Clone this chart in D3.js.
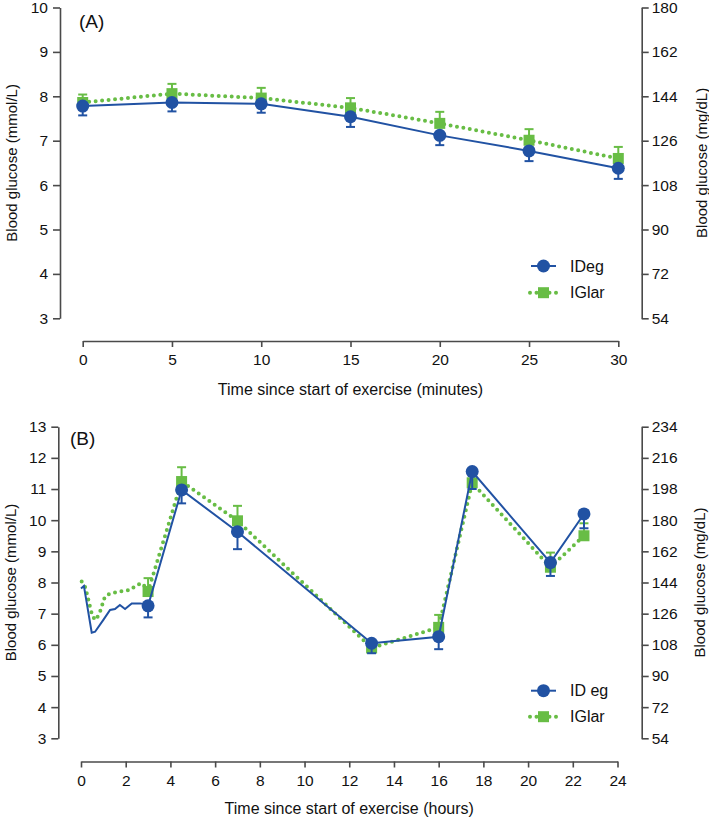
<!DOCTYPE html>
<html>
<head>
<meta charset="utf-8">
<script src="https://cdn.jsdelivr.net/npm/d3@7"></script>
<style>
  body { margin: 0; background: #fff; }
  svg { display: block; font-family: "Liberation Sans", Arial, Helvetica, sans-serif; }
</style>
</head>
<body>
<svg id="chart" width="709" height="818"></svg>
<script>
// ---------- Data: Panel A (minutes) ----------
const minutesA = [0, 5, 10, 15, 20, 25, 30];
const idegA    = [7.78, 7.86, 7.83, 7.54, 7.12, 6.77, 6.38];
const idegA_lo = [7.57, 7.66, 7.63, 7.31, 6.90, 6.54, 6.14];
const iglarA    = [7.86, 8.06, 7.96, 7.74, 7.39, 7.01, 6.60];
const iglarA_hi = [8.04, 8.28, 8.19, 7.96, 7.65, 7.26, 6.86];
const xTicksA = [0, 5, 10, 15, 20, 25, 30];
const yTicksA = [3, 4, 5, 6, 7, 8, 9, 10];
const yTicksA_mg = [54, 72, 90, 108, 126, 144, 162, 180];

// ---------- Data: Panel B (hours) ----------
const hoursB    = [3, 4.5, 7, 13, 16, 17.5, 21, 22.5];
const idegB     = [7.25, 10.97, 9.63, 6.05, 6.26, 11.56, 8.64, 10.20];
const idegB_lo  = [6.88, 10.54, 9.07, 5.73, 5.86, 11.00, 8.21, 9.74];
const iglarB    = [7.71, 11.24, 9.98, 5.90, 6.56, 11.20, 8.49, 9.50];
const iglarB_hi = [8.14, 11.70, 10.46, 6.10, 6.96, 11.65, 8.96, 9.90];
// continuous glucose during first 3 h
const idegCgmT  = [0, 0.13, 0.48, 0.63, 1.0, 1.3, 1.52, 1.74, 1.97, 2.27, 2.64, 2.86];
const idegCgmV  = [7.81, 7.89, 6.39, 6.42, 6.80, 7.12, 7.15, 7.28, 7.15, 7.33, 7.33, 7.30];
const iglarCgmT = [0.03, 0.16, 0.28, 0.40, 0.52, 0.67, 0.85, 1.07, 1.30, 1.74, 2.19, 2.49, 2.72, 2.94];
const iglarCgmV = [8.03, 7.92, 7.60, 7.23, 6.90, 6.80, 7.06, 7.55, 7.65, 7.71, 7.76, 7.92, 7.98, 7.81];
const xTicksB = [0, 2, 4, 6, 8, 10, 12, 14, 16, 18, 20, 22, 24];
const yTicksB = [3, 4, 5, 6, 7, 8, 9, 10, 11, 12, 13];
const yTicksB_mg = [54, 72, 90, 108, 126, 144, 162, 180, 198, 216, 234];

const BLUE = "#2152a3";
const GREEN = "#68bd45";
const AXIS = "#4a4a4a";
const TICKFONT = 15.5;
const HFONT = 16;   // horizontal titles
const VFONT = 15;   // rotated titles

const svg = d3.select("#chart");

function panel(cfg) {
  const g = svg.append("g");
  const x = d3.scaleLinear().domain(cfg.xDomain).range([cfg.x0, cfg.x1]);
  const y = d3.scaleLinear().domain(cfg.yDomain).range([cfg.yBottom, cfg.yTop]);
  const y2 = d3.scaleLinear().domain(cfg.y2Domain).range([cfg.yBottom, cfg.yTop]);
  const fmt = d3.format("d");

  const la = g.append("g").attr("transform", `translate(${cfg.leftX},0)`)
    .call(d3.axisLeft(y).tickValues(cfg.yTicks).tickFormat(fmt).tickSize(7).tickPadding(5).tickSizeOuter(0));
  const ra = g.append("g").attr("transform", `translate(${cfg.rightX},0)`)
    .call(d3.axisRight(y2).tickValues(cfg.y2Ticks).tickFormat(fmt).tickSize(7).tickPadding(3).tickSizeOuter(0));
  const ba = g.append("g").attr("transform", `translate(0,${cfg.axisY})`)
    .call(d3.axisBottom(x).tickValues(cfg.xTicks).tickFormat(fmt).tickSize(6).tickPadding(7).tickSizeOuter(0));
  [la, ra, ba].forEach(a => {
    a.select(".domain").attr("stroke", AXIS).attr("stroke-width", 1.6);
    a.selectAll(".tick line").attr("stroke", AXIS).attr("stroke-width", 1.6);
    a.selectAll(".tick text").attr("fill", "#111").style("font-size", TICKFONT + "px")
      .style("font-family", '"Liberation Sans", Arial, sans-serif');
  });

  g.append("text").attr("transform", `translate(${cfg.leftLabelX},${(cfg.yTop + cfg.yBottom) / 2}) rotate(-90)`)
    .attr("text-anchor", "middle").attr("dominant-baseline", "central")
    .style("font-size", VFONT + "px").attr("fill", "#111").text("Blood glucose (mmol/L)");
  g.append("text").attr("transform", `translate(${cfg.rightLabelX},${(cfg.yTop + cfg.yBottom) / 2}) rotate(-90)`)
    .attr("text-anchor", "middle").attr("dominant-baseline", "central")
    .style("font-size", VFONT + "px").attr("fill", "#111").text("Blood glucose (mg/dL)");
  g.append("text").attr("x", (cfg.x0 + cfg.x1) / 2).attr("y", cfg.xLabelY)
    .attr("text-anchor", "middle").attr("dominant-baseline", "central")
    .style("font-size", HFONT + "px").attr("fill", "#111").text(cfg.xLabel);
  g.append("text").attr("x", cfg.tagX).attr("y", cfg.tagY)
    .attr("dominant-baseline", "central")
    .style("font-size", "19px").attr("fill", "#111").text(cfg.tag);

  const line = d3.line().x(d => x(d[0])).y(d => y(d[1]));

  // Green series (behind)
  g.append("path").datum(cfg.greenLine).attr("d", line)
    .attr("fill", "none").attr("stroke", GREEN).attr("stroke-width", 4)
    .attr("stroke-linecap", "round").attr("stroke-dasharray", "0,6.5");
  const gEb = g.append("g");
  cfg.markerT.forEach((t, i) => {
    const cx = x(t), v = cfg.green[i], hi = cfg.greenHi[i];
    gEb.append("line").attr("x1", cx).attr("x2", cx).attr("y1", y(v)).attr("y2", y(hi))
      .attr("stroke", GREEN).attr("stroke-width", 2);
    gEb.append("line").attr("x1", cx - 4.5).attr("x2", cx + 4.5).attr("y1", y(hi)).attr("y2", y(hi))
      .attr("stroke", GREEN).attr("stroke-width", 2);
    gEb.append("rect").attr("x", cx - 5.5).attr("y", y(v) - 5.5).attr("width", 11).attr("height", 11)
      .attr("fill", GREEN);
  });

  // Blue series (front)
  g.append("path").datum(cfg.blueLine).attr("d", line)
    .attr("fill", "none").attr("stroke", BLUE).attr("stroke-width", 2);
  const bEb = g.append("g");
  cfg.markerT.forEach((t, i) => {
    const cx = x(t), v = cfg.blue[i], lo = cfg.blueLo[i];
    bEb.append("line").attr("x1", cx).attr("x2", cx).attr("y1", y(v)).attr("y2", y(lo))
      .attr("stroke", BLUE).attr("stroke-width", 2);
    bEb.append("line").attr("x1", cx - 4.5).attr("x2", cx + 4.5).attr("y1", y(lo)).attr("y2", y(lo))
      .attr("stroke", BLUE).attr("stroke-width", 2);
    bEb.append("circle").attr("cx", cx).attr("cy", y(v)).attr("r", 6.5).attr("fill", BLUE);
  });

  // Legend
  const lg = g.append("g");
  const lx0 = 531, lx1 = 556, lmx = 543.5, tx = 570;
  lg.append("line").attr("x1", lx0).attr("x2", lx1).attr("y1", cfg.legY[0]).attr("y2", cfg.legY[0])
    .attr("stroke", BLUE).attr("stroke-width", 2);
  lg.append("circle").attr("cx", lmx).attr("cy", cfg.legY[0]).attr("r", 6.5).attr("fill", BLUE);
  lg.append("text").attr("x", tx).attr("y", cfg.legY[0]).attr("dominant-baseline", "central")
    .style("font-size", HFONT + "px").attr("fill", "#111").text(cfg.legNames[0]);
  lg.append("line").attr("x1", lx0 - 1).attr("x2", lx1 + 1).attr("y1", cfg.legY[1]).attr("y2", cfg.legY[1])
    .attr("stroke", GREEN).attr("stroke-width", 4).attr("stroke-linecap", "round").attr("stroke-dasharray", "0,6.5");
  lg.append("rect").attr("x", lmx - 5.5).attr("y", cfg.legY[1] - 5.5).attr("width", 11).attr("height", 11).attr("fill", GREEN);
  lg.append("text").attr("x", tx).attr("y", cfg.legY[1]).attr("dominant-baseline", "central")
    .style("font-size", HFONT + "px").attr("fill", "#111").text(cfg.legNames[1]);
}

panel({
  xDomain: [0, 30], x0: 82.7, x1: 618.3,
  yDomain: [3, 10], yBottom: 318.3, yTop: 7.5,
  y2Domain: [54, 180],
  leftX: 60, rightX: 641.7, axisY: 341,
  xTicks: xTicksA, yTicks: yTicksA, y2Ticks: yTicksA_mg,
  leftLabelX: 11, rightLabelX: 701, xLabelY: 389,
  xLabel: "Time since start of exercise (minutes)",
  tag: "(A)", tagX: 79, tagY: 21,
  markerT: minutesA, blue: idegA, blueLo: idegA_lo, green: iglarA, greenHi: iglarA_hi,
  blueLine: minutesA.map((t, i) => [t, idegA[i]]),
  greenLine: minutesA.map((t, i) => [t, iglarA[i]]),
  legY: [266, 292.7], legNames: ["IDeg", "IGlar"]
});

panel({
  xDomain: [0, 24], x0: 81, x1: 617.5,
  yDomain: [3, 13], yBottom: 738.3, yTop: 426.7,
  y2Domain: [54, 234],
  leftX: 58.3, rightX: 641.7, axisY: 761.5,
  xTicks: xTicksB, yTicks: yTicksB, y2Ticks: yTicksB_mg,
  leftLabelX: 10, rightLabelX: 699, xLabelY: 808,
  xLabel: "Time since start of exercise (hours)",
  tag: "(B)", tagX: 70, tagY: 438,
  markerT: hoursB, blue: idegB, blueLo: idegB_lo, green: iglarB, greenHi: iglarB_hi,
  blueLine: idegCgmT.map((t, i) => [t, idegCgmV[i]]).concat(hoursB.map((t, i) => [t, idegB[i]])),
  greenLine: iglarCgmT.map((t, i) => [t, iglarCgmV[i]]).concat(hoursB.map((t, i) => [t, iglarB[i]])),
  legY: [690.7, 716.7], legNames: ["ID eg", "IGlar"]
});
</script>
</body>
</html>
